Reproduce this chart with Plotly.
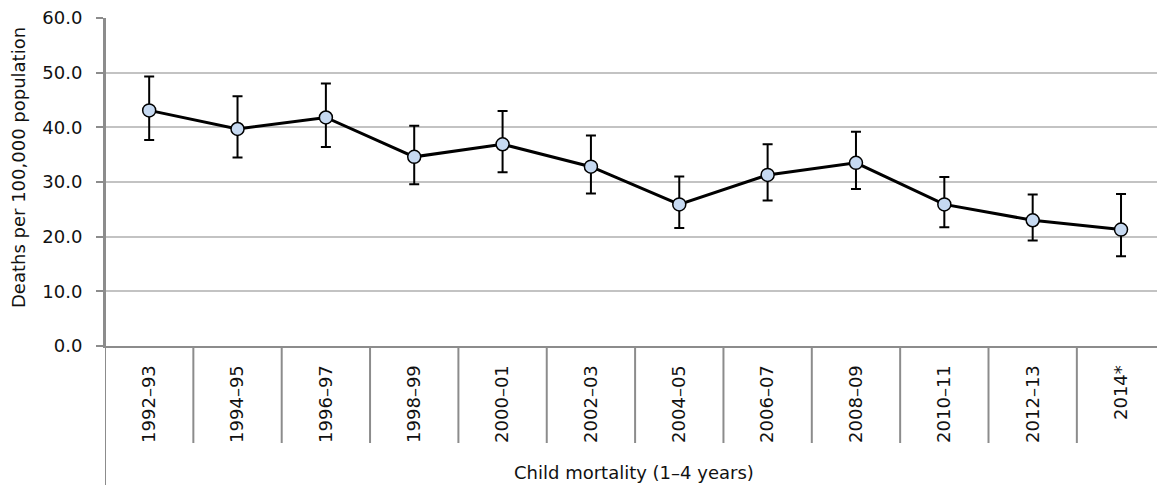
import plotly.graph_objects as go

# Child mortality (1–4 years): deaths per 100,000 population with confidence limits
periods = ["1992–93", "1994–95", "1996–97", "1998–99", "2000–01", "2002–03",
           "2004–05", "2006–07", "2008–09", "2010–11", "2012–13", "2014*"]
rate = [43.1, 39.7, 41.8, 34.6, 36.9, 32.8, 25.9, 31.3, 33.5, 25.9, 23.0, 21.3]
upper = [49.3, 45.7, 48.0, 40.3, 43.0, 38.5, 31.0, 36.9, 39.2, 30.9, 27.7, 27.8]
lower = [37.7, 34.5, 36.4, 29.6, 31.8, 27.9, 21.6, 26.6, 28.7, 21.7, 19.3, 16.4]
y_ticks = [0, 10, 20, 30, 40, 50, 60]

FONT = "DejaVu Sans"
FS = 18
TEXT = "#111111"
AXIS = "#8c8c8c"
GRID = "#c3c3c3"

W, H = 1157, 485
ML, MR, MT, MB = 105, 0, 18, 139
plot_w = W - ML - MR
plot_h = H - MT - MB
cat_w = 88.35  # pixel width of one category slot

idx = list(range(len(periods)))
err_plus = [u - r for u, r in zip(upper, rate)]
err_minus = [r - l for r, l in zip(rate, lower)]

fig = go.Figure()
fig.add_trace(go.Scatter(
    x=idx, y=rate, mode="lines+markers",
    line=dict(color="black", width=3),
    marker=dict(size=13, color="#c6d9f1", line=dict(color="black", width=1.5)),
    error_y=dict(type="data", symmetric=False, array=err_plus, arrayminus=err_minus,
                 color="black", thickness=2, width=5),
    showlegend=False, cliponaxis=False,
))

# category separators below the horizontal axis
sep_bottom = -(443 - (MT + plot_h)) / plot_h
for i in range(1, len(periods) + 1):
    fig.add_shape(type="line", xref="x", yref="paper", x0=i - 0.5, x1=i - 0.5,
                  y0=0, y1=sep_bottom, line=dict(color=AXIS, width=2), layer="below")
# left axis continues down past the category labels
fig.add_shape(type="line", xref="x", yref="paper", x0=-0.5, x1=-0.5,
              y0=1, y1=-(MB + 2) / plot_h, line=dict(color=AXIS, width=2))

x_max = -0.5 + plot_w / cat_w

fig.update_layout(
    width=W, height=H,
    margin=dict(l=ML, r=MR, t=MT, b=MB, pad=0),
    paper_bgcolor="white", plot_bgcolor="white",
    font=dict(family=FONT, size=FS, color=TEXT),
    xaxis=dict(
        range=[-0.5, x_max], tickmode="array", tickvals=idx, ticktext=periods,
        tickangle=-90, ticks="outside", ticklen=10, tickcolor="rgba(0,0,0,0)",
        showgrid=False, zeroline=False, showline=True, linecolor=AXIS, linewidth=2,
        tickfont=dict(family=FONT, size=FS, color=TEXT),
    ),
    yaxis=dict(
        range=[0, 60], tickmode="array", tickvals=y_ticks,
        ticktext=[f"{v:.1f}" for v in y_ticks],
        ticks="outside", ticklen=7, tickwidth=2, tickcolor=AXIS,
        ticklabelstandoff=10,
        showgrid=True, gridcolor=GRID, gridwidth=1.5,
        zeroline=False, showline=True, linecolor=AXIS, linewidth=2,
        tickfont=dict(family=FONT, size=FS, color=TEXT),
    ),
    annotations=[
        dict(text="Deaths per 100,000 population", textangle=-90,
             xref="paper", yref="paper", x=(18 - ML) / plot_w, y=(MT + plot_h - 168) / plot_h,
             xanchor="center", yanchor="middle", showarrow=False,
             font=dict(family=FONT, size=FS, color=TEXT)),
        dict(text="Child mortality (1–4 years)",
             xref="paper", yref="paper", x=(634 - ML) / plot_w, y=-(472 - MT - plot_h) / plot_h,
             xanchor="center", yanchor="middle", showarrow=False,
             font=dict(family=FONT, size=FS, color=TEXT)),
    ],
)

fig.write_html("out.html")
